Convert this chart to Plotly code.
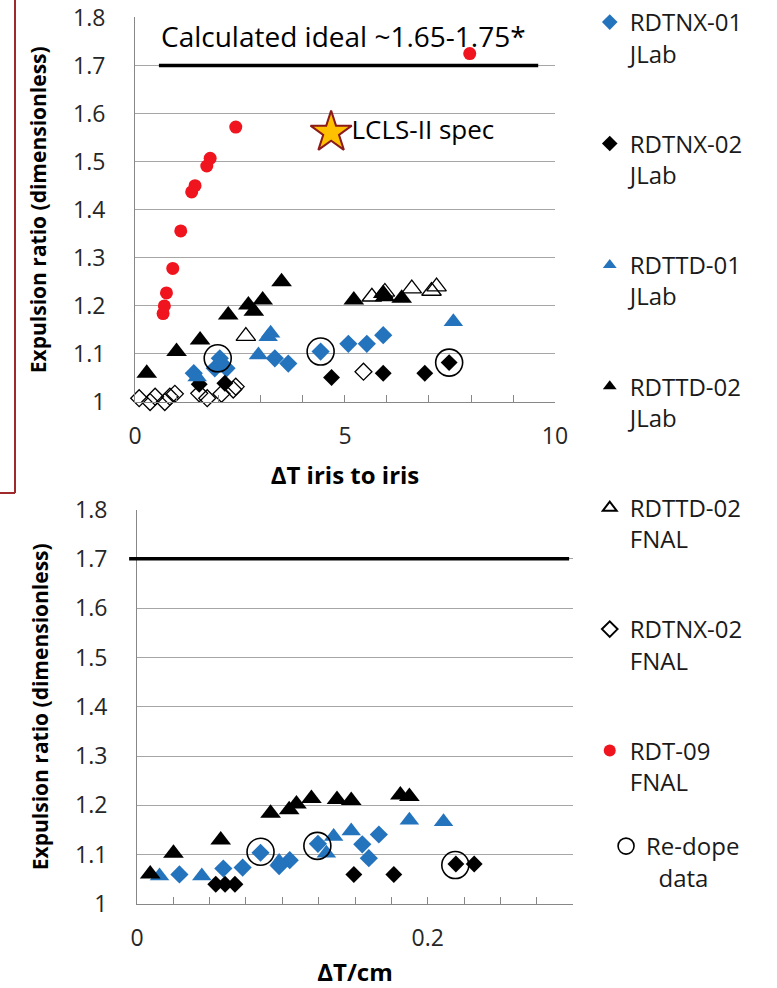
import plotly.graph_objects as go

# ---------------- data: top panel (x = ΔT iris to iris) ----------------
tnx01_jlab_x = [1.40, 1.90, 2.02, 2.18, 3.33, 3.65, 4.42, 5.08, 5.52, 5.91]
tnx01_jlab_y = [1.060, 1.070, 1.091, 1.070, 1.091, 1.080, 1.105, 1.121, 1.121, 1.139]

tnx02_jlab_x = [1.53, 2.14, 4.68, 5.91, 6.90, 7.48]
tnx02_jlab_y = [1.037, 1.039, 1.051, 1.060, 1.060, 1.082]

ttd01_jlab_x = [1.48, 2.94, 3.17, 3.23, 7.58]
ttd01_jlab_y = [1.052, 1.098, 1.136, 1.143, 1.167]

ttd02_jlab_x = [0.28, 0.99, 1.55, 2.22, 2.70, 2.83, 3.04, 3.49, 5.21, 5.91, 5.95, 6.35]
ttd02_jlab_y = [1.060, 1.105, 1.129, 1.181, 1.202, 1.189, 1.212, 1.250, 1.212, 1.226, 1.219, 1.216]

ttd02_fnal_x = [2.64, 5.64, 5.95, 6.59, 7.06, 7.18]
ttd02_fnal_y = [1.137, 1.219, 1.229, 1.236, 1.231, 1.240]

tnx02_fnal_x = [0.10, 0.36, 0.48, 0.71, 0.83, 0.95, 1.53, 1.72, 2.06, 2.34, 2.40, 5.44]
tnx02_fnal_y = [1.008, 1.000, 1.011, 1.000, 1.011, 1.017, 1.018, 1.008, 1.017, 1.026, 1.032, 1.063]

rdt09_fnal_x = [0.67, 0.70, 0.75, 0.90, 1.09, 1.35, 1.43, 1.71, 1.79, 2.40, 7.97]
rdt09_fnal_y = [1.184, 1.200, 1.227, 1.278, 1.356, 1.437, 1.450, 1.491, 1.507, 1.572, 1.725]

redope_top_x = [1.97, 4.42, 7.48]
redope_top_y = [1.091, 1.105, 1.082]

lcls_spec_x = [4.67]
lcls_spec_y = [1.561]

# ---------------- data: bottom panel (x = ΔT/cm) ----------------
b_tnx01_jlab_x = [0.0292, 0.0594, 0.0727, 0.0850, 0.0978, 0.1051, 0.1245, 0.1550, 0.1595, 0.1664]
b_tnx01_jlab_y = [1.060, 1.072, 1.074, 1.104, 1.077, 1.089, 1.122, 1.121, 1.093, 1.141]

b_tnx02_jlab_x = [0.0542, 0.0606, 0.0674, 0.1492, 0.1767, 0.2194, 0.2320]
b_tnx02_jlab_y = [1.040, 1.040, 1.040, 1.060, 1.060, 1.081, 1.081]

b_ttd01_jlab_x = [0.0155, 0.0446, 0.0978, 0.1303, 0.1353, 0.1474, 0.1874, 0.2109]
b_ttd01_jlab_y = [1.057, 1.057, 1.086, 1.103, 1.137, 1.148, 1.170, 1.167]

b_ttd02_jlab_x = [0.0091, 0.0251, 0.0576, 0.0919, 0.1047, 0.1097, 0.1200, 0.1376, 0.1474, 0.1812, 0.1874]
b_ttd02_jlab_y = [1.061, 1.103, 1.130, 1.184, 1.191, 1.203, 1.214, 1.212, 1.210, 1.221, 1.218]

redope_bot_x = [0.0850, 0.1241, 0.2190]
redope_bot_y = [1.106, 1.118, 1.079]

ideal_ratio = 1.7
ideal_label = "Calculated ideal ~1.65-1.75*"

BLUE = "#2473BD"
RED = "#F0141E"
FONT = "Open Sans"

fig = go.Figure()

def add(x, y, name, symbol, color, size, xa, ya, legend=True, group=None, line=None, lw=0):
    fig.add_trace(go.Scatter(
        x=x, y=y, mode="markers", name=name,
        xaxis=xa, yaxis=ya, showlegend=legend, legendgroup=group or name,
        marker=dict(symbol=symbol, color=color, size=size,
                    line=dict(color=line or color, width=lw)),
        cliponaxis=False,
    ))

# top panel
add(tnx01_jlab_x, tnx01_jlab_y, "RDTNX-01<br>JLab", "diamond", BLUE, 14, "x", "y", group="g1")
add(tnx02_jlab_x, tnx02_jlab_y, "RDTNX-02<br>JLab", "diamond", "black", 13, "x", "y", group="g2")
add(ttd01_jlab_x, ttd01_jlab_y, "RDTTD-01<br>JLab", "triangle-up", BLUE, 17, "x", "y", group="g3")
add(ttd02_jlab_x, ttd02_jlab_y, "RDTTD-02<br>JLab", "triangle-up", "black", 18, "x", "y", group="g4")
add(ttd02_fnal_x, ttd02_fnal_y, "RDTTD-02<br>FNAL", "triangle-up-open", "black", 17, "x", "y", group="g5", lw=1.3)
add(tnx02_fnal_x, tnx02_fnal_y, "RDTNX-02<br>FNAL", "diamond-open", "black", 13, "x", "y", group="g6", lw=1.3)
add(rdt09_fnal_x, rdt09_fnal_y, "RDT-09<br>FNAL", "circle", RED, 13, "x", "y", group="g7")

# bottom panel
add(b_tnx01_jlab_x, b_tnx01_jlab_y, "RDTNX-01 JLab", "diamond", BLUE, 14, "x2", "y2", legend=False, group="g1")
add(b_tnx02_jlab_x, b_tnx02_jlab_y, "RDTNX-02 JLab", "diamond", "black", 13, "x2", "y2", legend=False, group="g2")
add(b_ttd01_jlab_x, b_ttd01_jlab_y, "RDTTD-01 JLab", "triangle-up", BLUE, 17, "x2", "y2", legend=False, group="g3")
add(b_ttd02_jlab_x, b_ttd02_jlab_y, "RDTTD-02 JLab", "triangle-up", "black", 18, "x2", "y2", legend=False, group="g4")

# re-dope circles
fig.add_trace(go.Scatter(
    x=redope_top_x, y=redope_top_y, mode="markers", name="Re-dope<br>\u00a0\u00a0data",
    xaxis="x", yaxis="y", legend="legend2", legendgroup="g8",
    marker=dict(symbol="circle-open", size=27, color="black", line=dict(color="black", width=1.6)),
    cliponaxis=False))
fig.add_trace(go.Scatter(
    x=redope_bot_x, y=redope_bot_y, mode="markers", name="Re-dope data",
    xaxis="x2", yaxis="y2", showlegend=False, legendgroup="g8",
    marker=dict(symbol="circle-open", size=27, color="black", line=dict(color="black", width=1.6)),
    cliponaxis=False))

# LCLS-II spec star
fig.add_trace(go.Scatter(
    x=lcls_spec_x, y=lcls_spec_y, mode="markers+text", text=["LCLS-II spec"],
    textposition="middle right", showlegend=False, xaxis="x", yaxis="y",
    textfont=dict(family=FONT, size=26, color="black"),
    marker=dict(symbol="star", size=31, color="#FFC000", line=dict(color="#8B1A1A", width=2)),
    cliponaxis=False))

# ideal lines
fig.add_shape(type="line", xref="x domain", yref="y", x0=0.057, x1=0.96,
              y0=ideal_ratio, y1=ideal_ratio, line=dict(color="black", width=3.5))
fig.add_shape(type="line", xref="x2 domain", yref="y2", x0=-0.018, x1=0.991,
              y0=ideal_ratio, y1=ideal_ratio, line=dict(color="black", width=3.5))
fig.add_annotation(xref="x domain", yref="y", x=0.057, y=ideal_ratio, text=ideal_label,
                   showarrow=False, xanchor="left", yanchor="bottom", yshift=9,
                   font=dict(family=FONT, size=28, color="black"))

# dark red frame fragment at the left
fig.add_shape(type="line", xref="paper", yref="paper", x0=0.0193, x1=0.0193, y0=1.0, y1=0.501,
              line=dict(color="#9E2A2B", width=2))
fig.add_shape(type="line", xref="paper", yref="paper", x0=0.0, x1=0.0193, y0=0.501, y1=0.501,
              line=dict(color="#9E2A2B", width=2))

tickfont = dict(family=FONT, size=23, color="#262626")
xtitlefont = dict(family=FONT, size=24, color="black", weight="bold")
ytitlefont = dict(family=FONT, size=21, color="black", weight="bold")
AX = "#878787"
GRID = "#A6A6A6"

xcommon = dict(showline=True, linecolor=AX, linewidth=1, showgrid=False, zeroline=False,
               ticks="inside", ticklen=7, tickcolor=AX, tickfont=tickfont,
               ticklabelstandoff=13, automargin=False)
ycommon = dict(showline=True, linecolor=AX, linewidth=1, showgrid=True, gridcolor=GRID,
               gridwidth=1, zeroline=False, ticks="", tickfont=tickfont, range=[1, 1.8],
               dtick=0.1, tick0=1, ticklabelstandoff=24, automargin=False,
               title=dict(text="Expulsion ratio (dimensionless)", font=ytitlefont, standoff=20))

fig.update_layout(
    width=777, height=988, margin=dict(l=0, r=0, t=0, b=0, autoexpand=False),
    paper_bgcolor="white", plot_bgcolor="white",
    xaxis=dict(domain=[0.1737, 0.7143], range=[0, 10], dtick=5, tick0=0,
               minor=dict(dtick=1, ticks="inside", ticklen=7, tickcolor=AX),
               title=dict(text="ΔT iris to iris", font=xtitlefont, standoff=17),
               anchor="y", **xcommon),
    yaxis=dict(domain=[0.5931, 0.9823], anchor="x", **ycommon),
    xaxis2=dict(domain=[0.1763, 0.7375], range=[0, 0.3], dtick=0.2, tick0=0,
                minor=dict(dtick=0.025, ticks="inside", ticklen=7, tickcolor=AX),
                title=dict(text="ΔT/cm", font=xtitlefont, standoff=15),
                anchor="y2", **xcommon),
    yaxis2=dict(domain=[0.085, 0.4843], anchor="x2", **ycommon),
    legend=dict(x=0.759, y=1.0, xanchor="left", yanchor="top", bgcolor="rgba(0,0,0,0)",
                font=dict(family=FONT, size=24, color="#1a1a1a"),
                tracegroupgap=56, itemwidth=30, valign="top", itemsizing="constant"),
    legend2=dict(x=0.78, y=0.166, xanchor="left", yanchor="top", bgcolor="rgba(0,0,0,0)",
                 font=dict(family=FONT, size=24, color="#1a1a1a"),
                 itemwidth=30, valign="top"),
    showlegend=True,
)

fig.write_html("out.html")
